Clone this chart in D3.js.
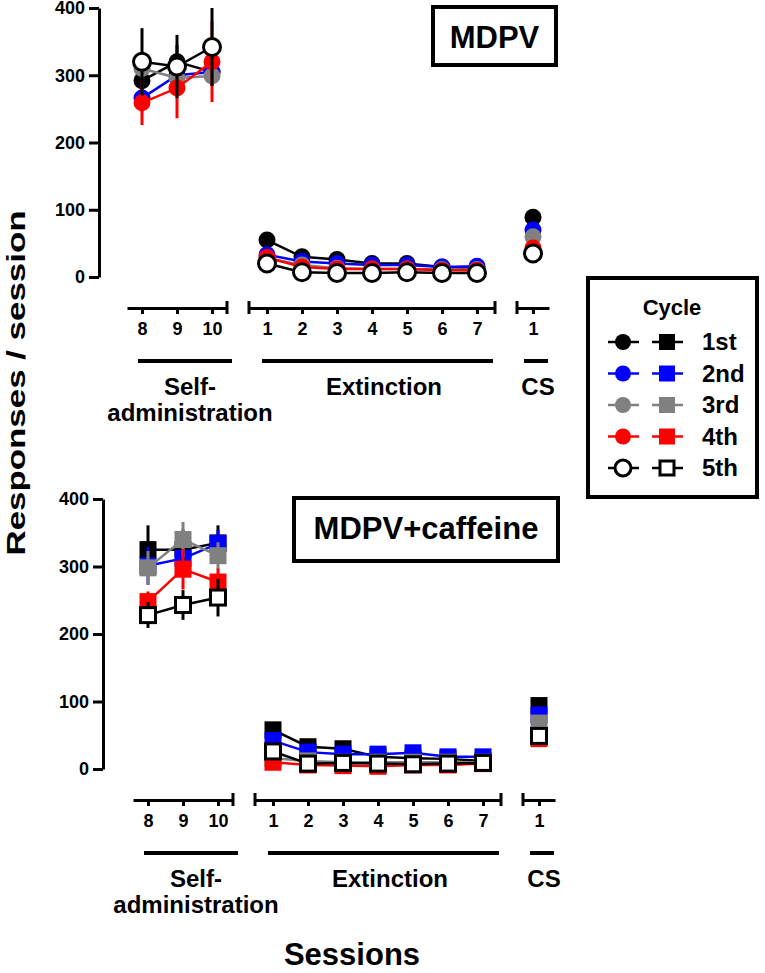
<!DOCTYPE html>
<html>
<head>
<meta charset="utf-8">
<script src="https://cdn.jsdelivr.net/npm/d3@7"></script>
<style>
  body { margin: 0; background: #fff; }
  svg { display: block; font-family: "Liberation Sans", Arial, sans-serif; font-weight: bold; }
  .axis path, .axis line { stroke: #000; stroke-width: 3; }
  .axis text { font-size: 18px; font-weight: bold; fill: #000; }
</style>
</head>
<body>
<div id="chart"></div>
<script>
const width = 765;
const height = 973;

// ---- data ----
const cycles = ["1st", "2nd", "3rd", "4th", "5th"];
const saSessions = [8, 9, 10];
const extSessions = [1, 2, 3, 4, 5, 6, 7];
const csSessions = [1];
const yTicks = [0, 100, 200, 300, 400];

// MDPV (circles)
const mdpvSA = [[292, 320, 305], [266, 300, 305], [310, 296, 299], [259, 281, 320], [320, 313, 342]];
const mdpvSAsem = [[25, 25, 20], [20, 15, 15], [15, 15, 15], [33, 45, 60], [50, 47, 58]];
const mdpvExt = [
  [55, 30, 26, 20, 20, 15, 13],
  [33, 23, 20, 18, 18, 15, 16],
  [28, 18, 13, 12, 12, 11, 11],
  [29, 15, 12, 12, 12, 10, 10],
  [20, 7, 6, 6, 7, 6, 6]
];
const mdpvCS = [89, 70, 60, 43, 35];

// MDPV+caffeine (squares)
const cafSA = [[325, 325, 335], [301, 312, 334], [298, 340, 316], [248, 296, 277], [228, 243, 254]];
const cafSAsem = [[36, 30, 26], [28, 15, 20], [25, 26, 20], [15, 30, 20], [19, 22, 28]];
const cafExt = [
  [58, 33, 30, 18, 16, 15, 12],
  [42, 25, 22, 22, 24, 18, 18],
  [16, 12, 10, 10, 10, 10, 10],
  [10, 6, 5, 4, 6, 6, 8],
  [26, 8, 9, 8, 7, 8, 9]
];
const cafCS = [94, 80, 68, 45, 49];

// ---- styles ----
const colors = ["#000000", "#0000ff", "#808080", "#ff0000", "#000000"];
const fills = ["#000000", "#0000ff", "#808080", "#ff0000", "#ffffff"];

const svg = d3.select("#chart").append("svg")
  .attr("width", width).attr("height", height)
  .attr("viewBox", `0 0 ${width} ${height}`);

const panels = [
  { title: "MDPV", sa: mdpvSA, saSem: mdpvSAsem, ext: mdpvExt, cs: mdpvCS, shape: "circle",
    y0: 277, y400: 8, axisX: 99, dx: 0, box: [433, 7, 123, 58] },
  { title: "MDPV+caffeine", sa: cafSA, saSem: cafSAsem, ext: cafExt, cs: cafCS, shape: "square",
    y0: 769, y400: 499, axisX: 103, dx: 6, box: [294, 498, 264, 63] }
];

function drawMarker(g, shape, x, y, i, size) {
  const stroke = i === 4 ? 3 : 0;
  if (shape === "circle") {
    g.append("circle").attr("cx", x).attr("cy", y).attr("r", size / 2)
      .attr("fill", fills[i]).attr("stroke", i === 4 ? "#000" : "none").attr("stroke-width", stroke);
  } else {
    const s = i === 4 ? size - 2 : size;
    g.append("rect").attr("x", x - s / 2).attr("y", y - s / 2).attr("width", s).attr("height", s)
      .attr("fill", fills[i]).attr("stroke", i === 4 ? "#000" : "none").attr("stroke-width", stroke);
  }
}

panels.forEach(p => {
  const g = svg.append("g");
  const y = d3.scaleLinear().domain([0, 400]).range([p.y0, p.y400]);
  const axisY = p.y0 + 31;

  // x segments (broken axis)
  const xSA = d3.scaleLinear().domain([8 - 15 / 35, 10 + 15 / 35]).range([127 + p.dx, 227 + p.dx]);
  const xExt = d3.scaleLinear().domain([1 - 18 / 35, 7 + 18 / 35]).range([249 + p.dx, 495 + p.dx]);
  const xCS = d3.scaleLinear().domain([1 - 16 / 35, 1 + 16 / 35]).range([517 + p.dx, 549 + p.dx]);

  // y axis
  g.append("g").attr("class", "axis")
    .attr("transform", `translate(${p.axisX},0)`)
    .call(d3.axisLeft(y).tickValues(yTicks).tickSize(10).tickSizeOuter(0).tickPadding(4));

  const segs = [
    { x: xSA, ticks: saSessions, caps: [false, true] },
    { x: xExt, ticks: extSessions, caps: [true, true] },
    { x: xCS, ticks: csSessions, caps: [true, false] }
  ];
  segs.forEach(s => {
    g.append("g").attr("class", "axis")
      .attr("transform", `translate(0,${axisY})`)
      .call(d3.axisBottom(s.x).tickValues(s.ticks).tickFormat(d3.format("d"))
        .tickSize(6).tickSizeOuter(0).tickPadding(8));
    s.x.range().forEach((px, k) => {
      if (s.caps[k]) {
        g.append("line").attr("x1", px).attr("x2", px)
          .attr("y1", axisY - 7).attr("y2", axisY + 6)
          .attr("stroke", "#000").attr("stroke-width", 3);
      }
    });
  });

  // group bars + labels
  const barY = axisY + 53;
  const groups = [
    { x1: 138, x2: 232, lines: ["Self-", "administration"], cx: 190 },
    { x1: 262, x2: 493, lines: ["Extinction"], cx: 384 },
    { x1: 524, x2: 548, lines: ["CS"], cx: 538 }
  ];
  groups.forEach(gr => {
    g.append("line").attr("x1", gr.x1 + p.dx).attr("x2", gr.x2 + p.dx)
      .attr("y1", barY).attr("y2", barY).attr("stroke", "#000").attr("stroke-width", 4);
    gr.lines.forEach((t, k) => {
      g.append("text").attr("x", gr.cx + p.dx).attr("y", barY + 34 + k * 26)
        .attr("text-anchor", "middle").style("font-size", "24px").text(t);
    });
  });

  // title box
  const [bx, by, bw, bh] = p.box;
  g.append("rect").attr("x", bx).attr("y", by).attr("width", bw).attr("height", bh)
    .attr("fill", "#fff").attr("stroke", "#000").attr("stroke-width", 4);
  g.append("text").attr("x", bx + bw / 2).attr("y", by + 41)
    .attr("text-anchor", "middle").style("font-size", "31px").text(p.title);

  // series
  const size = 17;
  cycles.forEach((c, i) => {
    const sg = g.append("g");
    const line = d3.line().x(d => d[0]).y(d => d[1]);
    const saPts = saSessions.map((s, k) => [xSA(s), y(p.sa[i][k])]);
    const extPts = extSessions.map((s, k) => [xExt(s), y(p.ext[i][k])]);
    [saPts, extPts].forEach(pts => {
      sg.append("path").attr("d", line(pts)).attr("fill", "none")
        .attr("stroke", colors[i]).attr("stroke-width", 2.5);
    });
    saSessions.forEach((s, k) => {
      const m = p.sa[i][k], e = p.saSem[i][k];
      sg.append("line").attr("x1", xSA(s)).attr("x2", xSA(s))
        .attr("y1", y(m - e)).attr("y2", y(m + e))
        .attr("stroke", colors[i]).attr("stroke-width", 3);
    });
    saPts.forEach(pt => drawMarker(sg, p.shape, pt[0], pt[1], i, size));
    extPts.forEach(pt => drawMarker(sg, p.shape, pt[0], pt[1], i, size));
    drawMarker(sg, p.shape, xCS(1), y(p.cs[i]), i, size);
  });
});

// axis titles
svg.append("text")
  .attr("transform", "translate(25,383) rotate(-90)")
  .attr("text-anchor", "middle")
  .attr("textLength", 345).attr("lengthAdjust", "spacingAndGlyphs")
  .style("font-size", "26px").text("Responses / session");

svg.append("text").attr("x", 352).attr("y", 965)
  .attr("text-anchor", "middle").style("font-size", "31px").text("Sessions");

// legend
const leg = svg.append("g");
leg.append("rect").attr("x", 588).attr("y", 278).attr("width", 169).attr("height", 219)
  .attr("fill", "#fff").attr("stroke", "#000").attr("stroke-width", 4);
leg.append("text").attr("x", 672).attr("y", 315).attr("text-anchor", "middle")
  .style("font-size", "22px").text("Cycle");
cycles.forEach((c, i) => {
  const ly = 342 + i * 31.5;
  [[608, 639, 623, "circle"], [652, 683, 667, "square"]].forEach(([x1, x2, cx, shape]) => {
    leg.append("line").attr("x1", x1).attr("x2", x2).attr("y1", ly).attr("y2", ly)
      .attr("stroke", colors[i]).attr("stroke-width", 2.5);
    drawMarker(leg, shape, cx, ly, i, 16);
  });
  leg.append("text").attr("x", 702).attr("y", ly).attr("dy", "0.35em")
    .style("font-size", "24px").text(c);
});
</script>
</body>
</html>
